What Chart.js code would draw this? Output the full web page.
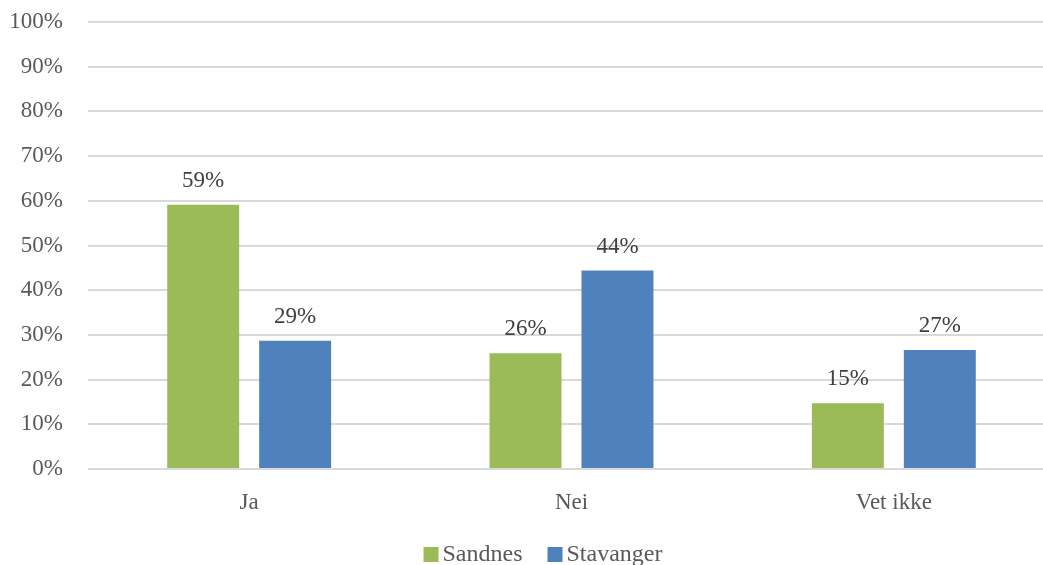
<!DOCTYPE html>
<html>
<head>
<meta charset="utf-8">
<script src="https://cdn.jsdelivr.net/npm/chart.js@4.4.1/dist/chart.umd.min.js"></script>
<style>
  html, body { margin: 0; padding: 0; background: #ffffff; overflow: hidden; }
  #wrap { position: relative; width: 1060px; height: 565px; }
</style>
</head>
<body>
<div id="wrap"><canvas id="chart"></canvas></div>
<script>
// Survey answers, share of respondents per municipality (%)
const categories = ['Ja', 'Nei', 'Vet ikke'];
const sandnes = [59.1, 25.9, 14.7];
const stavanger = [28.7, 44.4, 26.6];
const seriesNames = ['Sandnes', 'Stavanger'];
const yTicks = [0, 10, 20, 30, 40, 50, 60, 70, 80, 90, 100];

const FONT = '"Liberation Serif", "Times New Roman", serif';
const GREEN = '#9BBB59';
const BLUE = '#4F81BD';

// Value labels above each bar
const valueLabels = {
  id: 'valueLabels',
  afterDatasetsDraw(chart) {
    const ctx = chart.ctx;
    ctx.save();
    ctx.font = '23px ' + FONT;
    ctx.fillStyle = '#404040';
    ctx.textAlign = 'center';
    ctx.textBaseline = 'alphabetic';
    chart.data.datasets.forEach((ds, i) => {
      chart.getDatasetMeta(i).data.forEach((bar, j) => {
        ctx.fillText(Math.round(ds.data[j]) + '%', bar.x, bar.y - 18);
      });
    });
    ctx.restore();
  }
};

// Legend row under the axis
const bottomLegend = {
  id: 'bottomLegend',
  afterDraw(chart) {
    const ctx = chart.ctx;
    const box = 15, textGap = 4, itemGap = 25;
    ctx.save();
    ctx.font = '24px ' + FONT;
    const items = chart.data.datasets.map(ds => ({
      label: ds.label, color: ds.backgroundColor, w: ctx.measureText(ds.label).width
    }));
    const total = items.reduce((s, it) => s + box + textGap + it.w, 0) + itemGap * (items.length - 1);
    let x = 543 - total / 2;
    const baseline = 561;
    items.forEach(it => {
      ctx.fillStyle = it.color;
      ctx.fillRect(x, 547, box, box);
      x += box + textGap;
      ctx.fillStyle = '#595959';
      ctx.textBaseline = 'alphabetic';
      ctx.fillText(it.label, x, baseline);
      x += it.w + itemGap;
    });
    ctx.restore();
  }
};

new Chart(document.getElementById('chart'), {
  type: 'bar',
  data: {
    labels: categories,
    datasets: [
      { label: seriesNames[0], data: sandnes, backgroundColor: GREEN, borderWidth: 0 },
      { label: seriesNames[1], data: stavanger, backgroundColor: BLUE, borderWidth: 0 }
    ]
  },
  options: {
    responsive: true,
    maintainAspectRatio: false,
    animation: false,
    categoryPercentage: 0.5705,
    barPercentage: 0.7826,
    layout: { padding: { top: 22, right: 5, bottom: 0, left: 0 } },
    plugins: {
      legend: { display: false },
      tooltip: { enabled: false }
    },
    scales: {
      x: {
        offset: true,
        grid: { display: false },
        border: { display: false },
        ticks: {
          color: '#595959',
          font: { family: FONT, size: 23 },
          padding: 12
        },
        afterFit(scale) { scale.height = 96; }
      },
      y: {
        min: 0,
        max: 100,
        afterBuildTicks(scale) { scale.ticks = yTicks.map(v => ({ value: v })); },
        grid: { color: '#d9d9d9', lineWidth: 2, drawTicks: false },
        border: { display: false },
        ticks: {
          color: '#595959',
          font: { family: FONT, size: 23 },
          padding: 25,
          callback: v => v + '%'
        },
        afterFit(scale) {
          scale.width = 88;
          scale.paddingTop = 0;
          scale.paddingBottom = 0;
        }
      }
    }
  },
  plugins: [valueLabels, bottomLegend]
});
</script>
</body>
</html>
